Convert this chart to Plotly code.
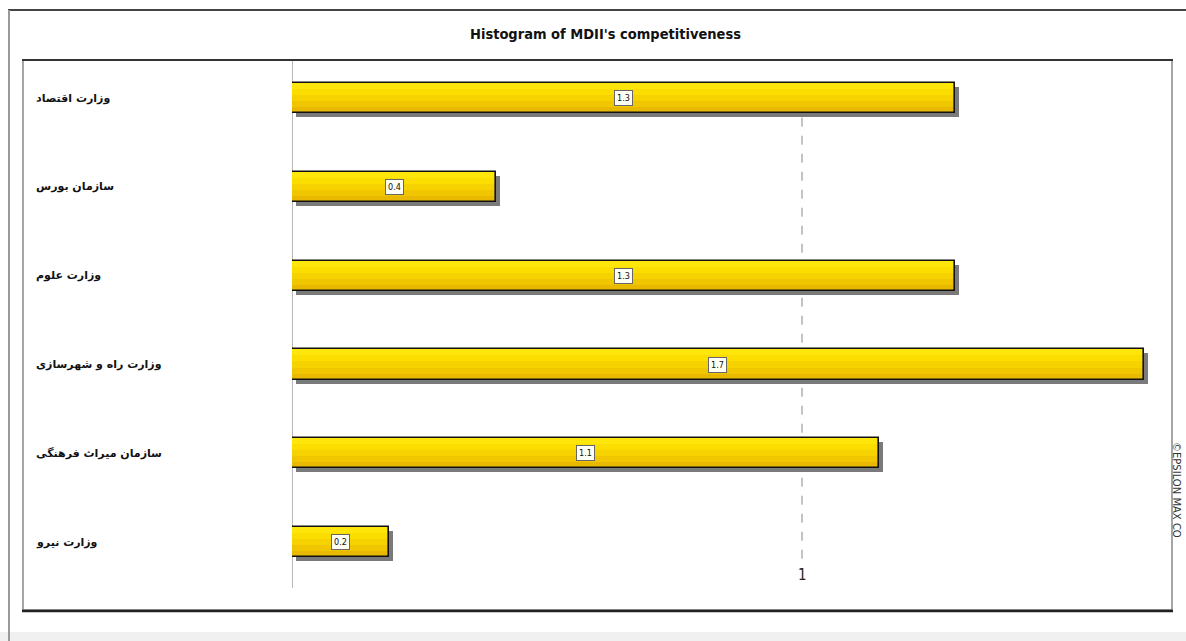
import plotly.graph_objects as go

# ---- data ----
categories = [
    "وزارت اقتصاد",
    "سازمان بورس",
    "وزارت علوم",
    "وزارت راه و شهرسازی",
    "سازمان میراث فرهنگی",
    "وزارت نیرو",
]
values = [1.30, 0.40, 1.30, 1.67, 1.15, 0.19]
title_text = "Histogram of MDII's competitiveness"
x_tick_vals = [1]
x_tick_text = ["1"]
watermark = "©EPSILON MAX CO"

# ---- geometry (pixels) ----
W, H = 1186, 641
ML, MR, MT, MB = 292, 26, 60, 51
PW, PH = W - ML - MR, H - MT - MB
PX_PER_UNIT = 510.0
x_max = PW / PX_PER_UNIT
y_top = -0.43
y_bot = 5.54
py_per_unit = PH / (y_bot - y_top)

NARROW = "DejaVu Sans Condensed, Liberation Sans Narrow, Arial Narrow, sans-serif"


def px(x):
    return (x - ML) / PW


def py(y):
    return 1 - (y - MT) / PH


bar_w = 0.34
dx = 4 / PX_PER_UNIT
dy = 4 / py_per_unit
ys = list(range(len(categories)))

fig = go.Figure()
# shadow
fig.add_trace(go.Bar(
    y=ys, x=values, base=[dx] * len(values),
    orientation="h", width=bar_w, offset=-bar_w / 2 + dy,
    marker=dict(color="#7a7a7a", line=dict(width=0)),
    hoverinfo="skip", showlegend=False,
))
# gradient fill (stacked strips from dark bottom to bright top)
grad = [(1.00, "#E9B800"), (0.80, "#F0C600"), (0.60, "#F6D200"), (0.40, "#FBDD00"), (0.20, "#FFE60A")]
for frac, col in grad:
    fig.add_trace(go.Bar(
        y=ys, x=values, orientation="h", width=bar_w * frac, offset=-bar_w / 2,
        marker=dict(color=col, line=dict(width=0)),
        hoverinfo="skip", showlegend=False,
    ))
# outline
fig.add_trace(go.Bar(
    y=ys, x=values, orientation="h", width=bar_w, offset=-bar_w / 2,
    marker=dict(color="rgba(0,0,0,0)", line=dict(color="#111111", width=1.6)),
    hovertext=categories, showlegend=False,
))

annotations = []
for i, (c, v) in enumerate(zip(categories, values)):
    annotations.append(dict(
        x=v / 2, y=i, xref="x", yref="y", text=f"{v:.1f}", showarrow=False,
        font=dict(family=NARROW, size=9, color="#111"),
        bgcolor="#fffff4", bordercolor="#666", borderwidth=1, borderpad=2,
    ))
    annotations.append(dict(
        x=px(34), y=i, xref="paper", yref="y", text=f"<b>{c}</b>",
        showarrow=False, xanchor="left",
        font=dict(family="DejaVu Sans", size=11, color="#111"),
    ))
for tv, tt in zip(x_tick_vals, x_tick_text):
    annotations.append(dict(
        x=tv, y=5.37, xref="x", yref="y", text=tt, showarrow=False,
        font=dict(family=NARROW, size=15, color="#222"),
    ))
annotations.append(dict(
    x=px(605), y=py(34), xref="paper", yref="paper", text=f"<b>{title_text}</b>",
    showarrow=False, xanchor="center", yanchor="middle",
    font=dict(family=NARROW, size=14.5, color="#111"),
))
annotations.append(dict(
    x=px(1177), y=py(490), xref="paper", yref="paper", text=watermark,
    showarrow=False, textangle=90, xanchor="center", yanchor="middle",
    font=dict(family="DejaVu Sans", size=10, color="#333"),
))

shapes = [
    # bottom light band
    dict(type="rect", xref="paper", yref="paper", x0=px(0), x1=px(W), y0=py(632), y1=py(H),
         fillcolor="#f0f0f0", line=dict(width=0), layer="below"),
    # outer frame lines
    dict(type="line", xref="paper", yref="paper", x0=px(8), x1=px(W), y0=py(10), y1=py(10),
         line=dict(color="#444", width=2)),
    dict(type="line", xref="paper", yref="paper", x0=px(9), x1=px(9), y0=py(10), y1=py(H),
         line=dict(color="#999", width=2)),
    # inner frame
    dict(type="rect", xref="paper", yref="paper", x0=px(23), x1=px(1172), y0=py(60), y1=py(610),
         line=dict(color="#888", width=1.5), layer="below"),
    dict(type="line", xref="paper", yref="paper", x0=px(22), x1=px(1173), y0=py(60), y1=py(60),
         line=dict(color="#333", width=2)),
    dict(type="line", xref="paper", yref="paper", x0=px(22), x1=px(1173), y0=py(611), y1=py(611),
         line=dict(color="#222", width=2.5)),
    # vertical axis line
    dict(type="line", xref="x", yref="paper", x0=0, x1=0, y0=py(588), y1=py(61),
         line=dict(color="#888", width=1.2), layer="below"),
    # dashed grid at x=1
    dict(type="line", xref="x", yref="y", x0=1, x1=1, y0=0.22, y1=5.25,
         line=dict(color="#888", width=1, dash="dash"), layer="below"),
]

fig.update_layout(
    width=W, height=H,
    margin=dict(l=ML, r=MR, t=MT, b=MB, pad=0),
    paper_bgcolor="white", plot_bgcolor="white",
    barmode="overlay", bargap=0,
    xaxis=dict(range=[0, x_max], showgrid=False, zeroline=False, showticklabels=False,
               showline=False, ticks=""),
    yaxis=dict(range=[y_bot, y_top], showgrid=False, zeroline=False, showticklabels=False,
               showline=False, ticks=""),
    annotations=annotations, shapes=shapes,
    showlegend=False,
)

fig.write_html(
    "out.html",
    config={"displayModeBar": False},
    post_script="document.body.style.margin='0';document.body.style.overflow='hidden';",
)
